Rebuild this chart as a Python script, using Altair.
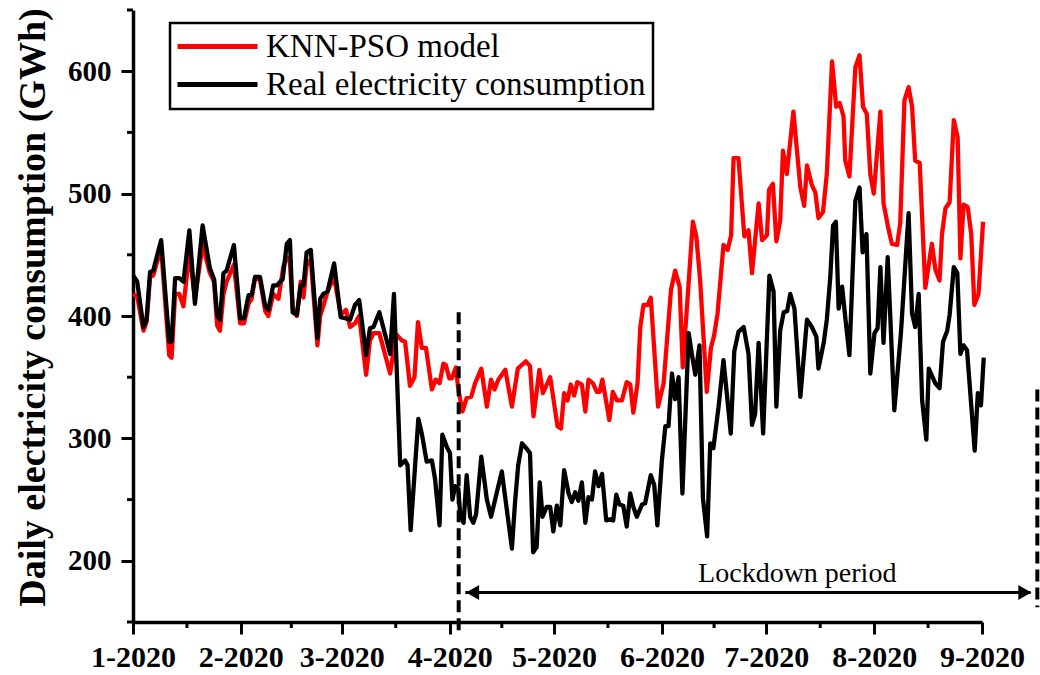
import altair as alt
import pandas as pd

# ---------------- data (day offsets from 2020-01-01, values in GWh) ----------------
real_name = "Real electricity consumption"
model_name = "KNN-PSO model"

real_days = [0.1, 1.2, 3.0, 3.9, 4.9, 5.8, 6.8, 8.1, 10.4, 11.1, 12.1, 13.3, 14.5, 16.2, 17.8, 20.0,
             22.1, 23.3, 24.2, 25.0, 26.0, 26.9, 29.0, 30.8, 31.9, 33.2, 34.1, 35.1, 36.5, 38.0, 38.9,
             40.3, 41.3, 43.0, 44.2, 45.1, 45.9, 47.1, 48.2, 49.0, 49.9, 51.1, 53.0, 53.8, 54.7, 55.9,
             57.8, 59.7, 61.2, 62.4, 63.8, 65.0, 67.0, 68.1, 69.1, 70.8, 73.9, 75.0, 76.8, 78.2, 78.9,
             79.8, 82.0, 83.0, 84.4, 85.9, 86.8, 88.1, 88.9, 90.2, 91.1, 91.8, 92.6, 93.5, 94.0, 95.0,
             95.9, 96.9, 97.8, 98.6, 100.1, 101.7, 102.9, 106.0, 108.9, 109.8, 110.7, 111.8, 113.0,
             114.1, 115.0, 116.0, 116.9, 117.7, 118.9, 119.9, 120.8, 121.8, 122.8, 123.9, 125.2, 126.1,
             127.1, 128.0, 129.0, 130.0, 130.9, 131.9, 132.8, 133.8, 134.8, 136.0, 137.1, 138.0, 138.9,
             139.8, 140.9, 141.9, 142.9, 143.8, 144.8, 146.3, 147.2, 148.8, 149.8, 150.7, 152.0, 153.0,
             153.9, 154.9, 155.8, 156.8, 157.9, 159.7, 160.6, 161.6, 162.8, 163.8, 165.0, 165.9, 166.8,
             168.3, 169.7, 171.8, 172.8, 174.0, 175.5, 176.9, 177.9, 178.8, 179.8, 181.1, 182.9, 184.1,
             184.9, 186.0, 187.0, 188.0, 188.9, 190.1, 191.8, 193.7, 195.1, 196.4, 197.0, 198.5, 199.4,
             200.4, 201.2, 202.0, 202.8, 203.8, 204.7, 205.9, 207.6, 208.8, 209.7, 210.8, 211.9, 213.1,
             214.0, 214.8, 215.7, 216.9, 218.8, 220.7, 222.9, 223.9, 224.8, 225.8, 226.8, 228.0, 228.7,
             230.6, 231.8, 232.8, 234.0, 234.7, 235.9, 236.9, 237.8, 238.7, 239.7, 241.9, 242.8, 243.7,
             244.5]
real_vals = [433, 428, 391, 397, 436, 437, 448, 462, 379, 379, 431, 431, 428, 470, 410, 474,
             439, 430, 400, 397, 435, 437, 458, 398, 398, 417, 417, 432, 432, 408, 405,
             425, 425, 430, 459, 462, 403, 401, 425, 425, 452, 454, 382, 414, 418, 420,
             443, 399, 398, 397, 409, 413, 368, 390, 391, 403, 369, 418, 278, 282, 278,
             225, 316, 304, 281, 282, 267, 229, 303, 293, 288, 250, 261, 259, 239, 231,
             270, 236, 231, 238, 285, 250, 236, 273, 210, 248, 278, 296, 292,
             288, 207, 211, 264, 236, 244, 244, 224, 245, 229, 274, 255, 248,
             256, 249, 264, 231, 252, 250, 273, 261, 271, 233, 234, 233, 254,
             246, 245, 228, 255, 244, 236, 246, 247, 270, 262, 229, 282, 310,
             310, 353, 332, 350, 255, 386, 369, 352, 376, 251, 220, 296, 292,
             326, 364, 304, 371, 387, 391, 369, 311, 320, 378, 304, 433, 420,
             326, 388, 403, 404, 418, 406, 334, 397, 391, 383, 357, 378, 397,
             432, 474, 477, 406, 424, 399, 368, 494, 505, 452, 467, 353, 386,
             390, 440, 378, 448, 323, 386, 484, 402, 391, 418, 331, 299, 357,
             345, 341, 379, 388, 401, 440, 435, 369, 376, 372, 290, 337, 327,
             366]

model_days = [0.1, 1.2, 3.0, 3.9, 4.9, 5.8, 6.8, 8.1, 10.4, 11.1, 12.1, 13.3, 14.5, 16.2, 17.8, 20.0,
              22.1, 23.3, 24.2, 25.0, 26.0, 26.9, 29.0, 30.8, 31.9, 33.2, 34.1, 35.1, 36.5, 38.0, 38.9,
              40.3, 41.8, 43.2, 44.2, 45.1, 45.9, 47.1, 48.2, 49.0, 49.9, 51.1, 53.0, 53.8, 54.7, 55.9,
              57.8, 59.7, 61.2, 62.4, 63.8, 65.0, 67.0, 68.1, 69.1, 70.8, 73.9, 75.6, 77.3, 78.2, 79.6,
              80.9, 81.9, 83.0, 84.2, 85.9, 87.0, 88.1, 89.2, 89.9, 90.9, 91.6, 92.8, 93.5, 94.7, 95.9,
              97.2, 98.3, 100.1, 101.7, 102.9, 103.9, 105.0, 107.0, 108.9, 110.6, 112.9, 114.1, 115.1,
              116.8, 117.8, 119.9, 122.0, 123.0, 123.9, 124.9, 125.8, 126.8, 127.7, 129.0, 130.0, 130.9,
              132.2, 133.3, 134.1, 134.9, 136.9, 137.9, 139.1, 140.5, 141.9, 142.9, 143.8, 145.0, 145.8,
              146.7, 147.9, 148.8, 150.9, 152.5, 154.6, 155.8, 157.1, 158.0, 160.9, 161.9, 163.0, 164.9,
              166.1, 167.0, 168.0, 169.7, 170.9, 171.9, 172.6, 174.0, 175.7, 176.9, 177.9, 179.8, 180.8,
              182.2, 182.8, 183.9, 184.9, 186.0, 186.8, 187.9, 189.8, 191.8, 192.9, 193.7, 195.1, 196.1,
              197.0, 198.3, 199.4, 200.9, 202.1, 203.1, 204.2, 204.7, 205.9, 207.6, 208.8, 209.8, 210.9,
              211.9, 212.9, 214.8, 215.7, 217.2, 218.1, 219.6, 220.5, 221.7, 222.9, 223.9, 224.8, 226.1,
              227.7, 229.6, 230.6, 231.8, 232.5, 233.5, 234.7, 235.9, 237.0, 237.8, 238.7, 239.9, 240.9,
              241.8, 243.0, 244.3]
model_vals = [418, 416, 388, 395, 432, 433, 443, 455, 368, 366, 418, 418, 408, 452, 414, 458,
              435, 428, 392, 388, 418, 428, 442, 394, 394, 410, 414, 432, 430, 404, 400,
              418, 414, 440, 448, 444, 406, 400, 428, 415, 442, 446, 376, 400, 408, 420,
              432, 401, 405, 391, 394, 400, 352, 380, 386, 386, 353, 385, 380, 379, 343,
              350, 395, 374, 374, 340, 348, 345, 361, 360, 349, 349, 358, 340, 322, 333,
              334, 345, 357, 326, 348, 340, 348, 356, 326, 357, 363, 359, 318,
              356, 337, 350, 310, 308, 337, 331, 344, 335, 346, 344, 322, 348,
              345, 338, 338, 348, 315, 338, 331, 331, 346, 344, 321, 345, 391,
              409, 409, 415, 326, 345, 421, 437, 424, 358, 477, 465, 429, 338,
              374, 384, 402, 458, 454, 466, 529, 529, 465, 470, 435, 492, 462,
              466, 503, 508, 461, 478, 535, 516, 567, 505, 490, 523, 507, 501,
              480, 485, 516, 608, 571, 574, 563, 527, 514, 603, 613, 571, 565,
              516, 500, 567, 492, 470, 459, 458, 476, 576, 587, 571, 527, 525,
              423, 459, 438, 429, 467, 488, 493, 560, 546, 447, 491, 489, 467,
              409, 418, 477]

month_tick_months = [1, 2, 3, 4, 5, 6, 7, 8, 9]
x_minor_days = [15.5, 45.5, 75.5, 106.0, 136.5, 167.0, 197.5, 228.5]
y_major_vals = [200, 300, 400, 500, 600]
y_minor_vals = [150, 250, 350, 450, 550, 650]

lockdown_line_days = [93.6, 259.9]
lockdown_line_top = [403, 340]
lockdown_line_bottom = [141, 162]
arrow_days = [95.5, 258.0]
arrow_value = 174
arrow_head_days = [97.6, 256.3]
arrow_head_shapes = ["triangle-left", "triangle-right"]
label_text = "Lockdown period"
label_day = 190.9
label_value = 183

# ---------------- helpers ----------------
START = pd.Timestamp("2020-01-01")
FONT = "Liberation Serif"


def to_dates(days):
    return START + pd.to_timedelta(pd.Series(days, dtype=float), unit="D")


W, H = 849, 612

x_scale = alt.Scale(domain=[alt.DateTime(year=2020, month=1, date=1),
                            alt.DateTime(year=2020, month=9, date=1)], nice=False)
y_scale = alt.Scale(domain=[150, 650], nice=False, zero=False)

x_axis = alt.Axis(values=[alt.DateTime(year=2020, month=m, date=1) for m in month_tick_months],
                  format="%-m-%Y", title=None, labelFlush=False, labelOverlap=False,
                  labelFontSize=30, labelPadding=8, tickSize=12)
y_axis = alt.Axis(values=y_major_vals, title="Daily electricity consumption (GWh)",
                  titleFontSize=38, titleFontWeight="bold", titleFont=FONT, titleColor="black",
                  titleX=-81, titleY=297, labelFontSize=29, labelPadding=10, tickSize=12)


def X(field="date"):
    return alt.X(f"{field}:T", scale=x_scale, axis=x_axis)


def Y(field="value"):
    return alt.Y(f"{field}:Q", scale=y_scale, axis=y_axis)


color_scale = alt.Scale(domain=[model_name, real_name], range=["#ff0000", "#000000"])
legend = alt.Legend(title=None, orient="none", legendX=37, legendY=13)

df_real = pd.DataFrame({"date": to_dates(real_days), "value": real_vals, "series": real_name})
df_model = pd.DataFrame({"date": to_dates(model_days), "value": model_vals, "series": model_name})

line_model = alt.Chart(df_model).mark_line(strokeWidth=4.3, strokeJoin="round").encode(
    x=X(), y=Y(), color=alt.Color("series:N", scale=color_scale, legend=legend))
line_real = alt.Chart(df_real).mark_line(strokeWidth=4.3, strokeJoin="round").encode(
    x=X(), y=Y(), color=alt.Color("series:N", scale=color_scale, legend=legend))

df_dash = pd.DataFrame({"date": to_dates(lockdown_line_days),
                        "value": lockdown_line_top, "value2": lockdown_line_bottom})
dashes = alt.Chart(df_dash).mark_rule(color="black", strokeWidth=4, strokeDash=[12, 6]).encode(
    x=X(), y=Y(), y2="value2:Q")

df_arrow = pd.DataFrame({"date": to_dates(arrow_days[:1]), "date2": to_dates(arrow_days[1:]),
                         "value": [arrow_value]})
arrow = alt.Chart(df_arrow).mark_rule(color="black", strokeWidth=3).encode(
    x=X(), x2="date2:T", y=Y())

df_heads = pd.DataFrame({"date": to_dates(arrow_head_days), "value": [arrow_value] * 2,
                         "shape": arrow_head_shapes})
heads = alt.Chart(df_heads).mark_point(filled=True, color="black", size=225, opacity=1).encode(
    x=X(), y=Y(),
    shape=alt.Shape("shape:N", scale=alt.Scale(domain=arrow_head_shapes, range=arrow_head_shapes),
                    legend=None))

df_label = pd.DataFrame({"date": to_dates([label_day]), "value": [label_value], "text": [label_text]})
label = alt.Chart(df_label).mark_text(font=FONT, fontSize=28, color="black",
                                      baseline="alphabetic", align="center").encode(
    x=X(), y=Y(), text="text:N")

df_xminor = pd.DataFrame({"date": to_dates(x_minor_days)})
x_minor = alt.Chart(df_xminor).mark_rule(color="black", strokeWidth=3).encode(
    x=X(), y=alt.value(H), y2=alt.value(H + 6))

df_yminor = pd.DataFrame({"value": y_minor_vals})
y_minor = alt.Chart(df_yminor).mark_rule(color="black", strokeWidth=3).encode(
    y=Y(), x=alt.value(0), x2=alt.value(-6))

chart = alt.layer(line_model, line_real, dashes, arrow, heads, label, x_minor, y_minor).properties(
    width=W, height=H,
    padding={"left": 133, "top": 10, "right": 58, "bottom": 53},
    autosize=alt.AutoSizeParams(type="none"),
).configure_view(stroke=None).configure_axis(
    grid=False, domainColor="black", domainWidth=3.5, tickColor="black", tickWidth=3,
    labelFont=FONT, labelFontWeight="bold", labelColor="black",
).configure_legend(
    strokeColor="black", strokeWidth=2.5, fillColor="white", padding=7,
    labelFont=FONT, labelFontSize=33, labelColor="black", labelLimit=600,
    symbolType="M-4,0H4", symbolSize=400, symbolStrokeWidth=5,
    symbolOffset=24, labelOffset=32, rowPadding=4,
)

chart.save("out.html", embed_options={"renderer": "svg", "actions": False})
